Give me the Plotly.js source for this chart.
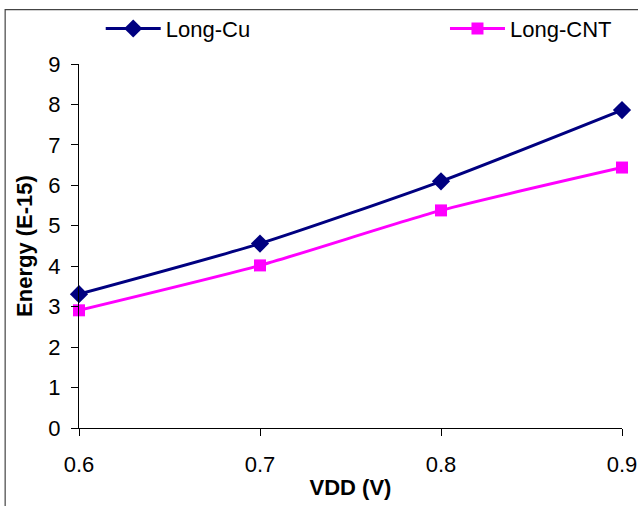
<!DOCTYPE html>
<html>
<head>
<meta charset="utf-8">
<script src="https://cdn.plot.ly/plotly-3.0.1.min.js"></script>
<style>html,body{margin:0;padding:0;background:#fff;}#chart{width:638px;height:506px;}</style>
</head>
<body>
<div id="chart"></div>
<script>
const vdd = [0.6, 0.7, 0.8, 0.9];
const longCu = [3.31, 4.56, 6.10, 7.86];
const longCNT = [2.91, 4.02, 5.38, 6.44];
const xTicks = [0.6, 0.7, 0.8, 0.9];
const yTicks = [0, 1, 2, 3, 4, 5, 6, 7, 8, 9];

const font = "Liberation Sans, Arial, sans-serif";

const traces = [
  {x: vdd, y: longCu, name: 'Long-Cu', type: 'scatter', mode: 'lines+markers', legend: 'legend',
   cliponaxis: false,
   line: {color: '#000080', width: 3, shape: 'spline', smoothing: 0.6},
   marker: {symbol: 'diamond', size: 14, color: '#000080'}},
  {x: vdd, y: longCNT, name: 'Long-CNT', type: 'scatter', mode: 'lines+markers', legend: 'legend2',
   cliponaxis: false,
   line: {color: '#ff00ff', width: 3, shape: 'spline', smoothing: 0.6},
   marker: {symbol: 'square', size: 12, color: '#ff00ff'}}
];

const legendBase = {orientation: 'h', yanchor: 'middle', xanchor: 'left', font: {size: 22},
                    bgcolor: 'rgba(0,0,0,0)', itemwidth: 55};

const layout = {
  width: 638, height: 506,
  margin: {l: 79, r: 16, t: 63.5, b: 78, pad: 0, autoexpand: false},
  paper_bgcolor: '#fff', plot_bgcolor: '#fff',
  font: {family: font, size: 22, color: '#000'},
  showlegend: true,
  legend: Object.assign({}, legendBase, {x: 0.04, y: 1.097}),
  legend2: Object.assign({}, legendBase, {x: 0.674, y: 1.097}),
  xaxis: {range: [0.6, 0.9], tickvals: xTicks, ticktext: xTicks.map(v => v.toFixed(1)),
          showgrid: false, zeroline: false, showline: true, linecolor: '#000', linewidth: 1,
          ticks: 'outside', ticklen: 7, tickcolor: '#000', tickfont: {size: 22},
          ticklabelstandoff: 10, automargin: false,
          title: {text: '<b>VDD (V)</b>', font: {size: 22}, standoff: 3}},
  yaxis: {range: [0, 9], tickvals: yTicks, showgrid: false, zeroline: false,
          showline: true, linecolor: '#000', linewidth: 1,
          ticks: 'outside', ticklen: 7, tickcolor: '#000', tickfont: {size: 22},
          ticklabelstandoff: 6, automargin: false,
          title: {text: '<b>Energy (E-15)</b>', font: {size: 22}, standoff: 9}},
  shapes: [{type: 'rect', xref: 'paper', yref: 'paper', x0: -0.136, x1: 1.04, y0: -0.23, y1: 1.1495,
            line: {color: '#444', width: 1.2}, fillcolor: 'rgba(0,0,0,0)', layer: 'below'}]
};

Plotly.newPlot('chart', traces, layout, {displayModeBar: false, staticPlot: true});
</script>
</body>
</html>
